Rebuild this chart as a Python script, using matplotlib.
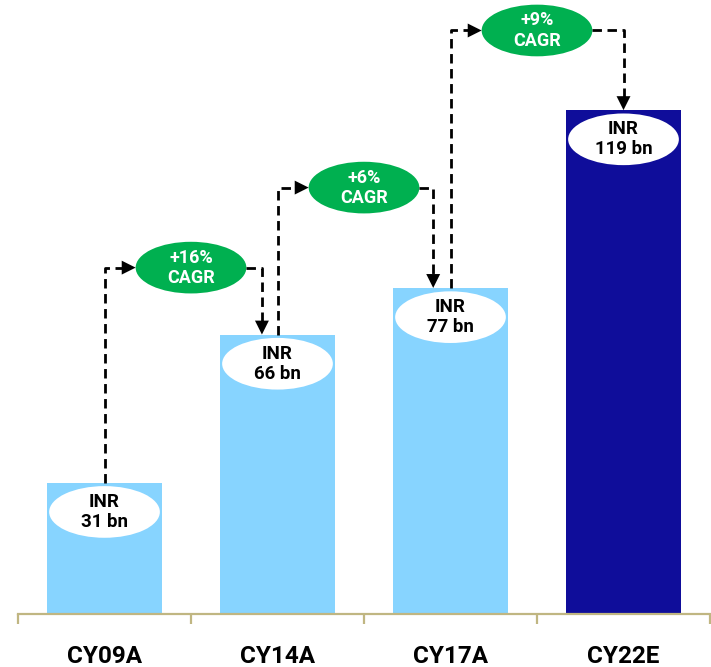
import matplotlib
matplotlib.use("Agg")
import matplotlib.pyplot as plt
from matplotlib.patches import Ellipse

# ---- data ----
categories = ["CY09A", "CY14A", "CY17A", "CY22E"]
values = [31, 66, 77, 119]
value_labels = ["INR\n31 bn", "INR\n66 bn", "INR\n77 bn", "INR\n119 bn"]
cagr_labels = ["+16%\nCAGR", "+6%\nCAGR", "+9%\nCAGR"]

# ---- layout / style ----
bar_colors = ["#87D4FF", "#87D4FF", "#87D4FF", "#0F0D9A"]
cagr_y = [81.8, 100.7, 137.8]          # vertical position of CAGR bubbles (layout)
down_offset = [-0.09, -0.10, 0.0]      # x offset of incoming arrows (layout)
green = "#00B050"
axis_color = "#C0B682"

fig = plt.figure(figsize=(7.11, 6.67), dpi=100)
ax = fig.add_axes([18 / 711, 53 / 667, 692 / 711, 614 / 667])
ax.set_xlim(-0.5, len(categories) - 0.5)
ax.set_ylim(0, 145)

x = list(range(len(categories)))
ax.bar(x, values, width=0.67, color=bar_colors, zorder=2)

# white value bubbles
ew, eh = 0.64, 12.2
for i, (v, lab) in enumerate(zip(values, value_labels)):
    cy = v - 6.9
    ax.add_patch(Ellipse((i, cy), ew, eh, facecolor="white", edgecolor="none", zorder=3))
    ax.text(i, cy, lab, ha="center", va="center", fontsize=13.5, fontweight="bold",
            family="Roboto", color="black", linespacing=1.15, zorder=4)

dash = (0, (3.4, 2.0))
lw = 2.0
head = "-|>,head_length=10,head_width=5"

def arrow_head(tip, direction):
    dx, dy = direction
    ax.annotate("", xy=tip, xytext=(-dx * 11, -dy * 11), textcoords="offset points",
                arrowprops=dict(arrowstyle=head, color="black", lw=0.01,
                                shrinkA=0, shrinkB=0, mutation_scale=1), zorder=5)

# CAGR bubbles and connectors
for k, lab in enumerate(cagr_labels):
    cx = k + 0.5
    cy = cagr_y[k]
    ax.add_patch(Ellipse((cx, cy), ew, eh * 1.0, facecolor=green, edgecolor="none", zorder=3))
    ax.text(cx, cy, lab, ha="center", va="center", fontsize=13, fontweight="bold",
            family="Roboto", color="white", linespacing=1.15, zorder=4)

    # outgoing path: up from bar k, then right to bubble
    left_edge = cx - ew / 2
    ax.plot([k, k, left_edge - 0.07], [values[k], cy, cy], color="black", lw=lw,
            linestyle=dash, zorder=4, dash_capstyle="butt")
    arrow_head((left_edge, cy), (1, 0))

    # incoming path: right from bubble, then down to bar k+1
    right_edge = cx + ew / 2
    tx = k + 1 + down_offset[k]
    ytop = values[k + 1]
    ax.plot([right_edge, tx, tx], [cy, cy, ytop + 3.2], color="black", lw=lw,
            linestyle=dash, zorder=4, dash_capstyle="butt")
    arrow_head((tx, ytop), (0, -1))

# axes styling
for s in ["top", "right", "left"]:
    ax.spines[s].set_visible(False)
ax.spines["bottom"].set_color(axis_color)
ax.spines["bottom"].set_linewidth(1.6)
ax.set_yticks([])
ax.set_xticks(x)
ax.set_xticklabels(categories, fontsize=17.5, fontweight="bold", family="Roboto")
ax.tick_params(axis="x", which="major", length=0, pad=22)
ax.set_xticks([i - 0.5 for i in range(len(categories) + 1)], minor=True)
ax.tick_params(axis="x", which="minor", length=7, width=1.6, color=axis_color, direction="out")

fig.savefig("out.png", dpi=100)
